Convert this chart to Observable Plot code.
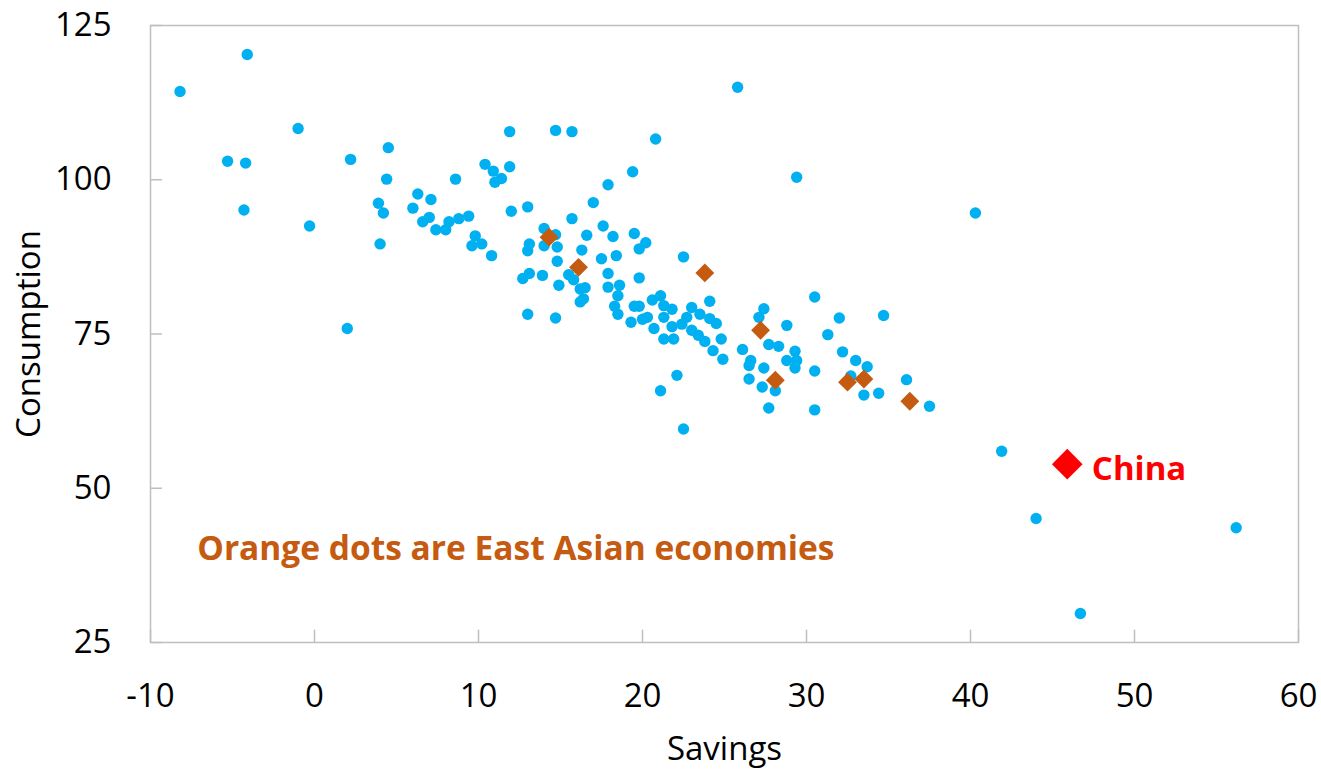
<!DOCTYPE html>
<html><head><meta charset="utf-8">
<script src="https://cdn.jsdelivr.net/npm/d3@7"></script>
<script src="https://cdn.jsdelivr.net/npm/@observablehq/plot@0.6"></script>
<style>
body{margin:0;background:#fff;}
#chart svg{display:block;}
</style>
</head><body><div id="chart"></div>
<script>
// All economies (blue)
const savings = [-8.2,-4.1,-1.0,-5.3,-4.2,-4.3,2.2,-0.3,4.5,4.4,3.9,4.2,4.0,6.3,7.1,6.0,7.0,6.6,7.4,8.0,8.2,8.8,9.4,8.6,9.8,9.6,10.2,10.8,11.9,10.4,10.9,11.0,11.4,11.9,12.0,13.0,12.7,13.1,13.9,13.0,13.0,13.1,14.0,19.4,17.9,17.0,15.7,17.6,19.5,20.2,19.8,18.2,16.6,14.7,14.0,14.8,16.3,18.4,17.5,22.5,14.8,15.5,15.8,14.9,17.9,19.8,17.9,18.6,16.2,16.5,16.2,16.4,18.5,18.3,18.5,14.7,19.5,19.8,19.3,20.0,20.3,20.7,20.6,21.1,21.3,21.8,21.3,21.8,22.4,21.3,21.9,22.1,21.1,22.5,23.0,22.7,23.5,24.1,24.1,24.5,23.0,23.4,23.8,24.8,24.3,24.9,26.1,26.6,26.5,27.4,27.1,27.7,28.3,27.4,26.5,27.3,28.1,27.7,30.5,32.0,34.7,28.8,31.3,29.3,28.8,29.4,29.3,30.5,30.5,32.2,33.0,33.7,32.7,33.5,34.4,36.1,37.5,25.8,20.8,14.7,15.7,29.4,40.3,41.9,44.0,46.7,56.2,2.0];
const consumption = [114.3,120.3,108.3,103.0,102.7,95.1,103.3,92.5,105.2,100.1,96.2,94.6,89.6,97.7,96.8,95.4,93.9,93.2,91.9,91.9,93.2,93.7,94.1,100.1,90.9,89.3,89.6,87.7,107.8,102.5,101.4,99.6,100.2,102.1,94.9,95.6,84.0,84.8,84.5,78.2,88.5,89.6,92.1,101.3,99.2,96.3,93.7,92.5,91.3,89.8,88.8,90.8,91.0,91.1,89.3,89.1,88.6,87.7,87.2,87.5,86.8,84.6,83.8,82.9,84.8,84.1,82.6,82.9,82.3,82.5,80.2,80.7,81.2,79.5,78.2,77.6,79.5,79.5,76.9,77.4,77.7,75.9,80.5,81.2,79.6,79.0,77.7,76.2,76.6,74.2,74.2,68.3,65.8,59.6,79.3,77.7,78.2,80.3,77.5,76.7,75.6,74.8,73.8,74.2,72.3,70.9,72.5,70.7,69.9,79.1,77.7,73.3,73.0,69.5,67.7,66.4,65.8,63.0,81.0,77.6,78.0,76.4,74.9,72.2,70.7,70.7,69.5,69.0,62.7,72.1,70.7,69.7,68.2,65.1,65.4,67.6,63.3,115.0,106.6,108.0,107.8,100.4,94.6,56.0,45.1,29.7,43.6,75.9];

// East Asian economies (orange)
const eaSavings = [14.3,16.1,23.8,27.2,28.1,32.5,33.5,36.3];
const eaConsumption = [90.7,85.8,84.9,75.6,67.5,67.2,67.7,64.1];

// China (red)
const chinaSavings = [45.9];
const chinaConsumption = [53.9];

const xTicks = [-10,0,10,20,30,40,50,60];
const yTicks = [25,50,75,100,125];

const noteText = ["Orange dots are East Asian economies"];
const noteX = [-7.15];
const noteY = [40.1];
const chinaLabel = ["China"];
const chinaLabelX = [47.4];
const chinaLabelY = [53.1];

const all = savings.map((s, i) => ({s, c: consumption[i]}));
const ea = eaSavings.map((s, i) => ({s, c: eaConsumption[i]}));
const china = chinaSavings.map((s, i) => ({s, c: chinaConsumption[i]}));
const notes = noteText.map((t, i) => ({t, x: noteX[i], y: noteY[i]}));
const cl = chinaLabel.map((t, i) => ({t, x: chinaLabelX[i], y: chinaLabelY[i]}));

const FONT = "'Open Sans', 'Noto Sans', sans-serif";
const grid = "#bfbfbf";

const chart = Plot.plot({
  width: 1321,
  height: 771,
  marginTop: 25,
  marginBottom: 129,
  marginLeft: 150,
  marginRight: 23,
  style: {fontFamily: FONT, background: "#fff", color: "#000"},
  x: {domain: [-10, 60], ticks: xTicks},
  y: {domain: [25, 125], ticks: yTicks},
  marks: [
    Plot.frame({stroke: grid, strokeWidth: 1.5}),
    Plot.ruleX(xTicks, {x: d => d, y1: 25, y2: 27, stroke: grid, strokeWidth: 1.5}),
    Plot.ruleY(yTicks, {y: d => d, x1: -10, x2: -9.27, stroke: grid, strokeWidth: 1.5}),
    Plot.axisX(xTicks, {tickSize: 0, tickPadding: 41, fontSize: 33, tickFormat: d => String(d), label: null, fill: "#000"}),
    Plot.axisY(yTicks, {tickSize: 0, tickPadding: 39, fontSize: 33, tickFormat: d => String(d), label: null, fill: "#000"}),
    Plot.text(["Savings"], {frameAnchor: "bottom", dy: 107, fontSize: 33, fill: "#000", textAnchor: "middle", lineAnchor: "middle"}),
    Plot.text(["Consumption"], {frameAnchor: "left", dx: -121, rotate: -90, fontSize: 33, fill: "#000", textAnchor: "middle", lineAnchor: "middle"}),
    Plot.dot(all, {x: "s", y: "c", r: 5.7, fill: "#00B0F0", stroke: "none"}),
    Plot.dot(ea, {x: "s", y: "c", r: 8.5, symbol: "diamond2", fill: "#C55A11", stroke: "none"}),
    Plot.dot(china, {x: "s", y: "c", r: 13.8, symbol: "diamond2", fill: "#FF0000", stroke: "none"}),
    Plot.text(notes, {x: "x", y: "y", text: "t", textAnchor: "start", lineAnchor: "middle", fontSize: 33.5, fontWeight: "bold", fill: "#C55A11"}),
    Plot.text(cl, {x: "x", y: "y", text: "t", textAnchor: "start", lineAnchor: "middle", fontSize: 33, fontWeight: "bold", fill: "#FF0000"})
  ]
});
document.getElementById("chart").appendChild(chart);
</script>
</body></html>
